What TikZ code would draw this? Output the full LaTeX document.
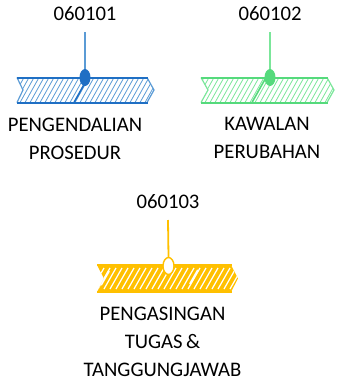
\documentclass[tikz,border=0pt]{standalone}
\usepackage{fontspec}
\setmainfont{Carlito}
\usetikzlibrary{shapes.geometric}
\definecolor{blueline}{HTML}{5B9BD5}
\definecolor{bluedark}{HTML}{1F6FC4}
\definecolor{greenline}{HTML}{7BE69A}
\definecolor{greendark}{HTML}{55DA7C}
\definecolor{gold}{HTML}{FFC000}
\tikzset{
  lbl/.style={font=\fontsize{20.7}{28}\selectfont, inner sep=0pt, align=center, text=black},
  dotnode/.style={ellipse, inner sep=0pt, minimum width=11pt, minimum height=17pt},
}
\begin{document}
\begin{tikzpicture}[x=1pt,y=-1pt]
\useasboundingbox (0,0) rectangle (338,381);

% ---------- blue ----------
\begin{scope}
  \clip (17,77.5) -- (23,90) -- (17,102.5) -- (147,102.5) -- (154,90) -- (147,77.5) -- cycle;
  \foreach \a in {0,5,...,150} \draw[blueline, line width=0.8pt] (\a,102.5) -- ++(14,-25);
  \draw[bluedark, line width=1.6pt] (74,102.5) -- ++(14,-25);
\end{scope}
\draw[blueline, line width=1.2pt, line join=round] (17,77.5) -- (23,90) -- (17,102.5);
\draw[blueline, line width=1.2pt, line join=round] (147,102.5) -- (154,90) -- (147,77.5);
\draw[bluedark, line width=2pt] (17,77.5) -- (148,77.5);
\draw[bluedark, line width=2pt] (17,102.5) -- (148,102.5);
\node[lbl, anchor=base] (n1) at (85,20) {060101};
\coordinate (t1) at (85,32);
\node[dotnode, fill=bluedark] (d1) at (85,77.5) {};
\draw[blueline, line width=1.2pt] (t1) -- (d1.north);
\node[lbl, anchor=north] (l1) at (75,117.5) {PENGENDALIAN\\PROSEDUR};

% ---------- green ----------
\begin{scope}
  \clip (201,77.5) -- (208,90) -- (201,102.5) -- (327,102.5) -- (334,90) -- (327,77.5) -- cycle;
  \foreach \a in {180,185,...,335} \draw[greenline, line width=0.8pt] (\a,102.5) -- ++(14,-25);
  \draw[greendark, line width=1.6pt] (252,102.5) -- ++(14,-25);
\end{scope}
\draw[greenline, line width=1.2pt, line join=round] (201,77.5) -- (208,90) -- (201,102.5);
\draw[greenline, line width=1.2pt, line join=round] (327,102.5) -- (334,90) -- (327,77.5);
\draw[greendark, line width=2pt] (201,77.5) -- (328,77.5);
\draw[greendark, line width=2pt] (201,102.5) -- (328,102.5);
\node[lbl, anchor=base] (n2) at (270,20) {060102};
\coordinate (t2) at (270,32);
\node[dotnode, fill=greendark] (d2) at (270,77.5) {};
\draw[greenline, line width=1.2pt] (t2) -- (d2.north);
\node[lbl, anchor=north] (l2) at (267,117.5) {KAWALAN\\PERUBAHAN};

% ---------- gold ----------
\begin{scope}
  \clip (97,265) -- (104,278.5) -- (97,292) -- (231,292) -- (238,278.5) -- (231,265) -- cycle;
  \fill[gold] (90,260) rectangle (240,295);
  \foreach \a in {86,92,...,236} \draw[white, line width=1.2pt] (\a,289) -- ++(12,-21);
  \draw[white, line width=2pt] (101,285) -- ++(8,-14);
  \draw[white, line width=2pt] (190,284) -- ++(8,-14);
\end{scope}
\draw[gold, line width=2.4pt] (97,265) -- (232,265);
\draw[gold, line width=2.4pt] (97,292) -- (232,292);
\node[lbl, anchor=base] (n3) at (168,208) {060103};
\coordinate (t3) at (168,220);
\node[dotnode, fill=white, draw=gold, line width=1.4pt] (d3) at (168.5,266) {};
\draw[gold, line width=1.8pt] (t3) -- (d3.north);
\node[lbl, anchor=north] (l3) at (162.5,306.5) {PENGASINGAN\\TUGAS\,\&\\TANGGUNGJAWAB};
\end{tikzpicture}
\end{document}
